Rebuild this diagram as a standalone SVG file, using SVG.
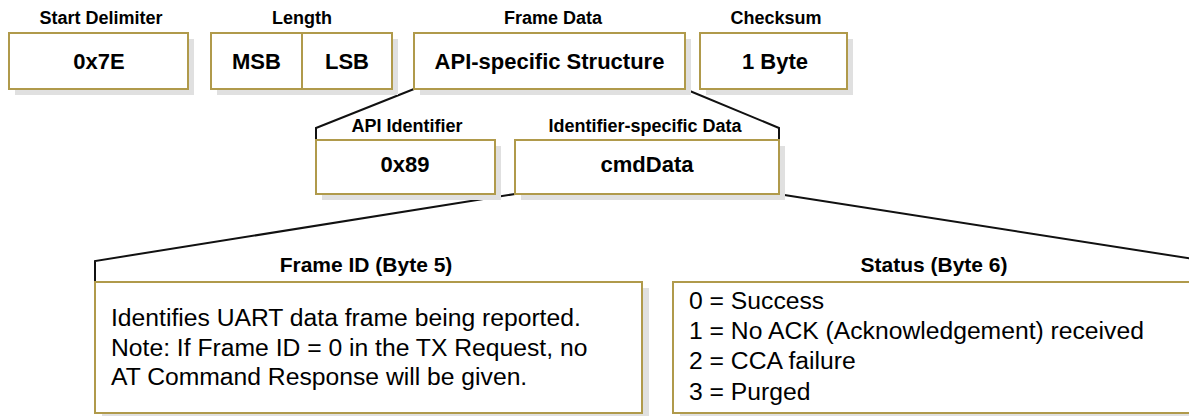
<svg xmlns="http://www.w3.org/2000/svg" width="1189" height="416" viewBox="0 0 1189 416">
  <style>
    .box { fill: #ffffff; stroke: #b09a4b; stroke-width: 2; }
    .shadow { fill: #e0e0e0; }
    .title { font-family: "Liberation Sans", Arial, sans-serif; font-weight: bold; font-size: 18px; fill: #000; text-anchor: middle; }
    .btitle { font-family: "Liberation Sans", Arial, sans-serif; font-weight: bold; font-size: 21px; fill: #000; text-anchor: middle; }
    .val { font-family: "Liberation Sans", Arial, sans-serif; font-weight: bold; font-size: 22px; fill: #000; text-anchor: middle; }
    .body { font-family: "Liberation Sans", Arial, sans-serif; font-size: 24.7px; fill: #000; }
    .conn { fill: none; stroke: #111; stroke-width: 2; }
  </style>
  <rect width="1189" height="416" fill="#ffffff"/>

  <g id="connectors">
    <path class="conn" d="M414,89 L316,128 L316,140"/>
    <path class="conn" d="M685,89 L779,128 L779,140"/>
    <path class="conn" d="M515,194 L95,261 L95,282"/>
    <path class="conn" d="M778,194 L1200,260"/>
  </g>

  <g id="start-delimiter">
    <text class="title" x="101" y="24">Start Delimiter</text>
    <rect class="shadow" x="15" y="39" width="179" height="56"/>
    <rect class="box" x="9" y="33" width="179" height="56"/>
    <text class="val" x="99" y="69">0x7E</text>
  </g>

  <g id="length">
    <text class="title" x="302" y="24">Length</text>
    <rect class="shadow" x="217" y="39" width="181" height="56"/>
    <rect class="box" x="211" y="33" width="181" height="56"/>
    <line x1="302" y1="33" x2="302" y2="89" stroke="#b09a4b" stroke-width="2"/>
    <text class="val" x="256.5" y="69">MSB</text>
    <text class="val" x="347" y="69">LSB</text>
  </g>

  <g id="frame-data">
    <text class="title" x="553" y="24">Frame Data</text>
    <rect class="shadow" x="420" y="39" width="271" height="56"/>
    <rect class="box" x="414" y="33" width="271" height="56"/>
    <text class="val" x="549.5" y="69">API-specific Structure</text>
  </g>

  <g id="checksum">
    <text class="title" x="776" y="24">Checksum</text>
    <rect class="shadow" x="706" y="39" width="147" height="56"/>
    <rect class="box" x="700" y="33" width="147" height="56"/>
    <text class="val" x="775" y="69">1 Byte</text>
  </g>

  <g id="api-identifier">
    <text class="title" x="407" y="132">API Identifier</text>
    <rect class="shadow" x="322" y="146" width="179" height="54"/>
    <rect class="box" x="316" y="140" width="179" height="54"/>
    <text class="val" x="405" y="172">0x89</text>
  </g>

  <g id="identifier-specific-data">
    <text class="title" x="645" y="132">Identifier-specific Data</text>
    <rect class="shadow" x="521" y="146" width="264" height="54"/>
    <rect class="box" x="515" y="140" width="264" height="54"/>
    <text class="val" x="647" y="172">cmdData</text>
  </g>

  <g id="frame-id">
    <text class="btitle" x="366" y="272">Frame ID (Byte 5)</text>
    <rect class="shadow" x="102" y="288" width="547" height="131"/>
    <rect class="box" x="95" y="282" width="547" height="131"/>
    <text class="body" x="111" y="326">Identifies UART data frame being reported.</text>
    <text class="body" x="111" y="356">Note: If Frame ID = 0 in the TX Request, no</text>
    <text class="body" x="111" y="385">AT Command Response will be given.</text>
  </g>

  <g id="status">
    <text class="btitle" x="934" y="272">Status (Byte 6)</text>
    <rect class="shadow" x="680" y="288" width="540" height="131"/>
    <rect class="box" x="673" y="282" width="540" height="131"/>
    <text class="body" x="689" y="309">0 = Success</text>
    <text class="body" x="689" y="339">1 = No ACK (Acknowledgement) received</text>
    <text class="body" x="689" y="369">2 = CCA failure</text>
    <text class="body" x="689" y="400">3 = Purged</text>
  </g>
</svg>
